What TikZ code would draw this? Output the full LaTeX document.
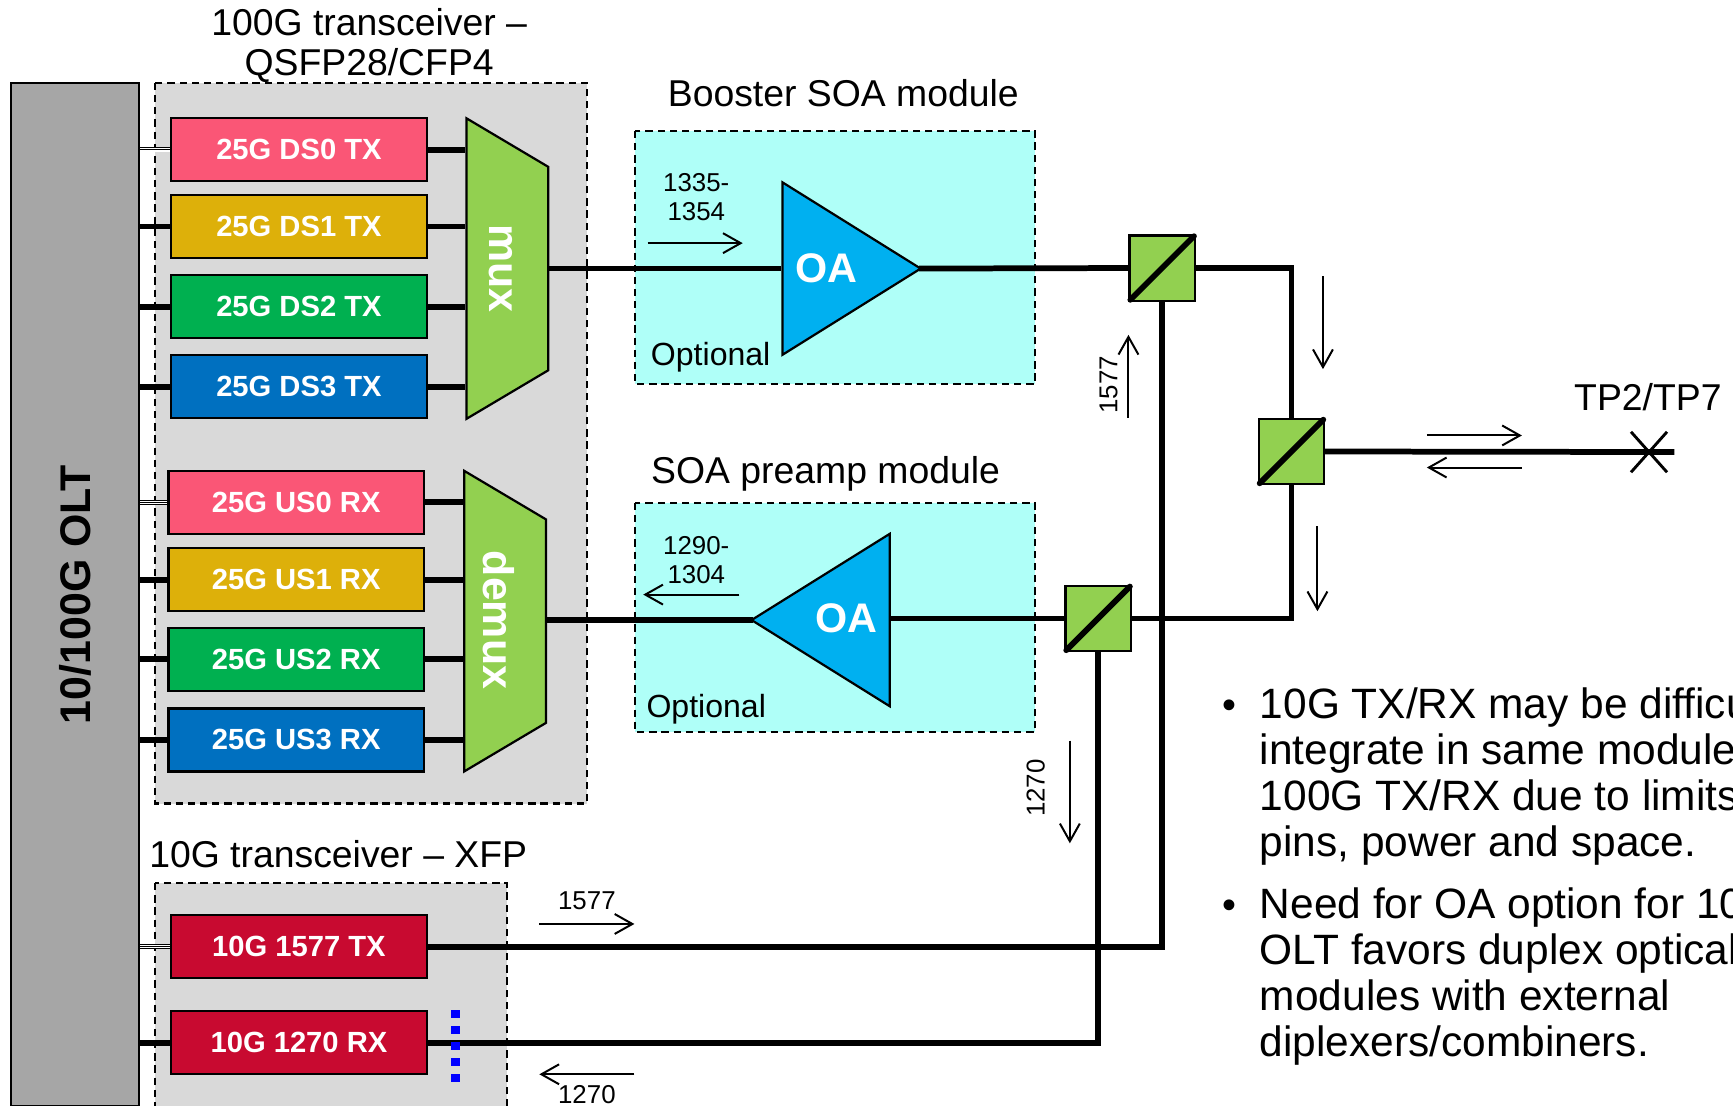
\documentclass[tikz,border=0pt]{standalone}
\usepackage{fontspec}
\setmainfont{Liberation Sans}
\usetikzlibrary{arrows.meta, shapes.geometric, shapes.misc}

\definecolor{oltgray}{HTML}{A6A6A6}
\definecolor{groupgray}{HTML}{D9D9D9}
\definecolor{soacyan}{HTML}{AFFFF8}
\definecolor{lanepink}{HTML}{FA5676}
\definecolor{lanegold}{HTML}{DDB00A}
\definecolor{lanegreen}{HTML}{00B050}
\definecolor{laneblue}{HTML}{0070C0}
\definecolor{xfpred}{HTML}{C80A30}
\definecolor{muxgreen}{HTML}{92D050}
\definecolor{oablue}{HTML}{00B0F0}

\tikzset{
  oltbox/.style={draw, fill=oltgray, line width=1pt, minimum width=58pt, minimum height=463pt, inner sep=0pt, font=\fontsize{19.4}{21}\bfseries\selectfont},
  groupbox/.style={draw, fill=groupgray, line width=1pt, dash pattern=on 3.3pt off 2.2pt},
  soabox/.style={draw, fill=soacyan, line width=1pt, dash pattern=on 3.3pt off 2.2pt},
  lanebox/.style={draw, line width=1pt, minimum width=115.5pt, minimum height=28.5pt, inner sep=0pt, text=white, font=\fontsize{13.2}{15}\bfseries\selectfont},
  muxbox/.style={trapezium, draw, fill=muxgreen, line width=1pt, rotate=-90, trapezium stretches body=true, trapezium angle=59.3, minimum width=136pt, inner sep=0pt},
  muxtext/.style={rotate=-90, text=white, inner sep=0pt, font=\fontsize{19.4}{21}\bfseries\selectfont},
  oabox/.style={isosceles triangle, isosceles triangle stretches=true, draw, fill=oablue, line width=1pt, minimum width=78pt, minimum height=62.5pt, inner sep=0pt},
  oatext/.style={text=white, inner sep=0pt, font=\fontsize{18.7}{20}\bfseries\selectfont},
  splitbox/.style={draw, fill=muxgreen, line width=1pt, minimum size=29.5pt, inner sep=0pt},
  fiber/.style={line width=2.6pt},
  thinfiber/.style={line width=0.35pt, double, double distance=1.6pt},
  midfiber/.style={line width=0.35pt},
  diag/.style={line width=2.6pt, line cap=round, shorten >=1.2pt, shorten <=1.2pt},
  flow/.style={->, line width=0.9pt},
  heading/.style={inner sep=0pt, font=\fontsize{16.9}{18}\selectfont},
  optnote/.style={inner sep=0pt, font=\fontsize{14.5}{16}\selectfont},
  wavenote/.style={inner sep=0pt, align=center, font=\fontsize{11.7}{13}\selectfont},
  bulletnote/.style={anchor=north west, inner sep=0pt, align=left, font=\fontsize{19.2}{20.75}\selectfont}
}

\begin{document}
\begin{tikzpicture}[x=0.5pt, y=-0.5pt, >={Straight Barb[length=8pt, width=9pt]}]
\clip (0,0) rectangle (1568,1000);

% Transceiver groups and SOA modules
\draw[groupbox] (140,75) rectangle (531,727);
\draw[groupbox] (140,799) rectangle (459,1010);
\draw[soabox] (574.5,118.5) rectangle (936.5,347.5);
\draw[soabox] (574.5,455) rectangle (936.5,662);

% Headings
\node[heading, align=center] (head100g) at (334,41) {100G transceiver --\\QSFP28/CFP4};
\node[heading] (head10g) at (306,773) {10G transceiver -- XFP};
\node[heading] (headbooster) at (763,84) {Booster SOA module};
\node[heading] (headpreamp) at (747,428.5) {SOA preamp module};
\node[heading] (headtp) at (1491,359) {TP2/TP7};

% OLT
\node[oltbox] (olt) at (68,538) {\rotatebox{90}{10/100G OLT}};

% 25G TX lanes
\node[lanebox, fill=lanepink] (ds0) at (270.5,135.5) {25G DS0 TX};
\node[lanebox, fill=lanegold] (ds1) at (270.5,205) {25G DS1 TX};
\node[lanebox, fill=lanegreen] (ds2) at (270.5,277.5) {25G DS2 TX};
\node[lanebox, fill=laneblue] (ds3) at (270.5,350) {25G DS3 TX};

% 25G RX lanes
\node[lanebox, fill=lanepink] (us0) at (268,454.5) {25G US0 RX};
\node[lanebox, fill=lanegold] (us1) at (268,524.5) {25G US1 RX};
\node[lanebox, fill=lanegreen] (us2) at (268,596.5) {25G US2 RX};
\node[lanebox, fill=laneblue] (us3) at (268,669.5) {25G US3 RX};

% 10G lanes
\node[lanebox, fill=xfpred] (tx1577) at (270.5,856.5) {10G 1577 TX};
\node[lanebox, fill=xfpred] (rx1270) at (270.5,943.5) {10G 1270 RX};

% Mux and demux
\node[muxbox] (mux) at (459,243) {\rule{0pt}{37pt}};
\node[muxbox] (demux) at (457,562) {\rule{0pt}{37pt}};
\node[muxtext] (muxlabel) at (453,243) {mux};
\node[muxtext] (demuxlabel) at (451.5,561) {demux};

% Optical amplifiers
\node[oabox, anchor=lower side] (booster) at (707,243) {};
\node[oabox, anchor=lower side, shape border rotate=180] (preamp) at (806,561) {};
\node[oatext] (boostertext) at (748,243) {OA};
\node[oatext] (preamptext) at (766,559) {OA};

% Diplexers
\node[splitbox] (split1) at (1051.5,242.5) {};
\node[splitbox] (split2) at (993.5,559.5) {};
\node[splitbox] (split3) at (1168.5,408.5) {};

% Connection point
\node[cross out, draw, line width=1.3pt, minimum width=15pt, minimum height=17pt, inner sep=0pt] (tp) at (1492,409) {};
\coordinate (tpend) at (1515,409);

% OLT to lanes
\draw[thinfiber] (olt.east |- ds0) -- (ds0);
\draw[midfiber] (olt.east |- ds0) -- (ds0);
\draw[fiber] (olt.east |- ds1) -- (ds1);
\draw[fiber] (olt.east |- ds2) -- (ds2);
\draw[fiber] (olt.east |- ds3) -- (ds3);
\draw[thinfiber] (olt.east |- us0) -- (us0);
\draw[midfiber] (olt.east |- us0) -- (us0);
\draw[fiber] (olt.east |- us1) -- (us1);
\draw[fiber] (olt.east |- us2) -- (us2);
\draw[fiber] (olt.east |- us3) -- (us3);
\draw[thinfiber] (olt.east |- tx1577) -- (tx1577);
\draw[midfiber] (olt.east |- tx1577) -- (tx1577);
\draw[fiber] (olt.east |- rx1270) -- (rx1270);

% Lanes to mux and demux
\draw[fiber] (ds0) -- (ds0 -| mux.south);
\draw[fiber] (ds1) -- (ds1 -| mux.south);
\draw[fiber] (ds2) -- (ds2 -| mux.south);
\draw[fiber] (ds3) -- (ds3 -| mux.south);
\draw[fiber] (us0) -- (us0 -| demux.south);
\draw[fiber] (us1) -- (us1 -| demux.south);
\draw[fiber] (us2) -- (us2 -| demux.south);
\draw[fiber] (us3) -- (us3 -| demux.south);

% Main optical path
\draw[fiber] (mux.north) -- (booster.lower side);
\draw[fiber] ([xshift=-2pt]booster.apex) -- (split1.west);
\draw[fiber] (split1.east) -- (split1.east -| split3.north) -- (split3.north);
\draw[fiber] (split3.south) -- (split3.south |- split2.east) -- (split2.east);
\draw[fiber] (split3.east) -- (tpend);
\draw[fiber] (split2.west) -- (split2.west -| preamp.lower side);
\draw[fiber] ([xshift=2pt]preamp.apex) -- (preamp.apex -| demux.north);
\draw[fiber] (split1.south) -- (split1.south |- tx1577) -- (tx1577);
\draw[fiber] (split2.south) -- (split2.south |- rx1270) -- (rx1270);

% Redraw diplexers over the path
\node[splitbox] at (split1) {};
\node[splitbox] at (split2) {};
\node[splitbox] at (split3) {};
\draw[diag] (split1.south west) -- (split1.north east);
\draw[diag] (split2.south west) -- (split2.north east);
\draw[diag] (split3.south west) -- (split3.north east);

% Blue dots
\draw[blue, line width=4pt, dash pattern=on 3.4pt off 3.85pt] (412,914) -- (412,980);

% Direction arrows
\draw[flow] (586,220) -- (672,220);
\draw[flow] (669,538) -- (582,538);
\draw[flow] (1197,250) -- (1197,334);
\draw[flow] (1192,476) -- (1192,553);
\draw[flow] (1291,394) -- (1377,394);
\draw[flow] (1377,423) -- (1291,423);
\draw[flow] (1021,378) -- (1021,303);
\draw[flow] (968,670) -- (968,763);
\draw[flow] (488,836) -- (574,836);
\draw[flow] (574,972) -- (488,972);

% Wavelength labels
\node[wavenote] (wave1335) at (630,178.5) {1335-\\1354};
\node[wavenote] (wave1290) at (630,506.5) {1290-\\1304};
\node[wavenote, rotate=90] (wave1577v) at (1003,348) {1577};
\node[wavenote, rotate=90] (wave1270v) at (937,713) {1270};
\node[wavenote] (wave1577h) at (531,815) {1577};
\node[wavenote] (wave1270h) at (531,990) {1270};
\node[optnote] (optbooster) at (643,323) {Optional};
\node[optnote] (optpreamp) at (639,642) {Optional};

% Notes on the right
\node[bulletnote] (note1) at (1139.5,622) {\llap{\fontsize{18}{18}\selectfont\textbullet\hspace{10.5pt}}10G TX/RX may be difficu\\integrate in same module\\100G TX/RX due to limits\\pins, power and space.};
\node[bulletnote] (note2) at (1139.5,803) {\llap{\fontsize{18}{18}\selectfont\textbullet\hspace{10.5pt}}Need for OA option for 10\\OLT favors duplex optical\\modules with external\\diplexers/combiners.};
\end{tikzpicture}
\end{document}
